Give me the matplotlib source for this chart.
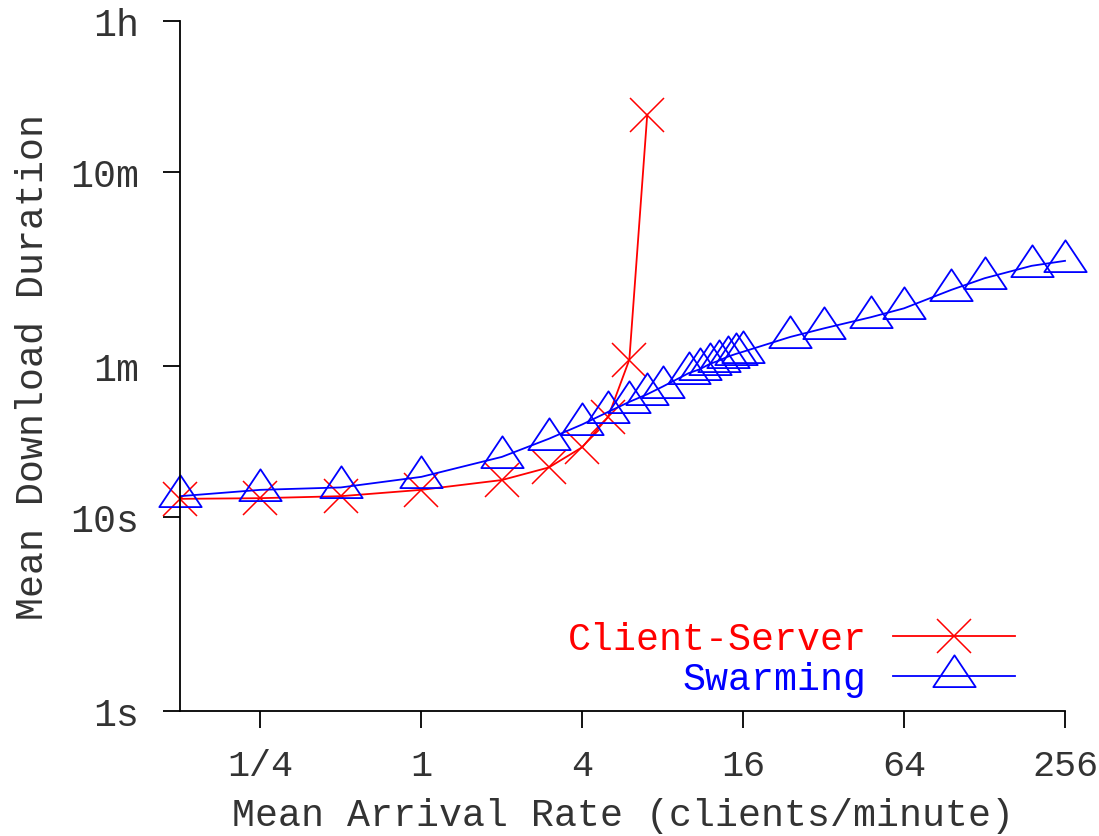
import numpy as np
import matplotlib
matplotlib.use("Agg")
import matplotlib.pyplot as plt
from matplotlib.path import Path

# Mean arrival rate (clients/minute) and mean download duration (seconds)
cs_rate = [1/8, 1/4, 1/2, 1, 2, 3, 4, 5, 6, 7]
cs_duration = [12.4, 12.5, 12.8, 13.8, 15.5, 18.0, 22.9, 32.8, 64.7, 1185]

sw_rate = [1/8, 1/4, 1/2, 1, 2, 3, 4, 5, 6, 7, 8, 10, 11, 12, 13, 14, 15, 16,
           24, 32, 48, 64, 96, 128, 192, 256]
sw_duration = [12.8, 13.8, 14.2, 16.1, 20.4, 25.3, 30.0, 34.8, 39.2, 42.9,
               47.0, 55.1, 57.7, 61.5, 64.0, 67.0, 69.2, 71.1,
               84.7, 93.7, 107, 119, 148, 170, 197, 209]

xticks = [1/4, 1, 4, 16, 64, 256]
xtick_labels = ["1/4", "1", "4", "16", "64", "256"]
yticks = [1, 10, 60, 600, 3600]
ytick_labels = ["1s", "10s", "1m", "10m", "1h"]

FONT = "Liberation Mono"
FS = 27.5

# gnuplot-style triangle: apex 4/3 above the point, base 2/3 below
tri = Path([(0, 4/3), (-4/3, -2/3), (4/3, -2/3), (0, 4/3)],
           [Path.MOVETO, Path.LINETO, Path.LINETO, Path.CLOSEPOLY])

fig = plt.figure(figsize=(10.99, 8.37), dpi=100)
ax = fig.add_axes([180/1099, 125/837, 885/1099, 690/837])

ax.plot(cs_rate, cs_duration, color="#ff0000", lw=1.3, marker="x",
        markersize=24, markeredgewidth=1.1, label="Client-Server",
        clip_on=False)
ax.plot(sw_rate, sw_duration, color="#0000ff", lw=1.3, marker=tri,
        markersize=30.5, markeredgewidth=1.3, markerfacecolor="none",
        label="Swarming", clip_on=False)

ax.set_xscale("log", base=2)
ax.set_yscale("log")
ax.set_xlim(1/8, 256)
ax.set_ylim(1, 3600)
ax.set_xticks(xticks)
ax.set_xticklabels(xtick_labels)
ax.set_yticks(yticks)
ax.set_yticklabels(ytick_labels)
ax.minorticks_off()

for side in ["top", "right"]:
    ax.spines[side].set_visible(False)
for side in ["left", "bottom"]:
    ax.spines[side].set_linewidth(1.3)

ax.tick_params(axis="both", direction="out", length=12.5, width=1.3,
               labelsize=FS, colors="#000000")
ax.tick_params(axis="x", pad=14, labelsize=26.5)
ax.tick_params(axis="y", pad=17)
for lab in ax.get_xticklabels() + ax.get_yticklabels():
    lab.set_family(FONT)
    lab.set_color("#333333")

ax.set_xlabel("Mean Arrival Rate (clients/minute)", fontsize=FS,
              family=FONT, color="#333333", labelpad=10)
ax.set_ylabel("Mean Download Duration", fontsize=FS, family=FONT,
              color="#333333", labelpad=14)

leg = ax.legend(loc="lower right", bbox_to_anchor=(0.944, 0.02),
                frameon=False, markerfirst=False, handlelength=3.2,
                handletextpad=0.7, labelspacing=0.1, borderpad=0,
                borderaxespad=0, prop={"family": FONT, "size": FS},
                labelcolor="linecolor")

fig.savefig("out.png", dpi=100)
